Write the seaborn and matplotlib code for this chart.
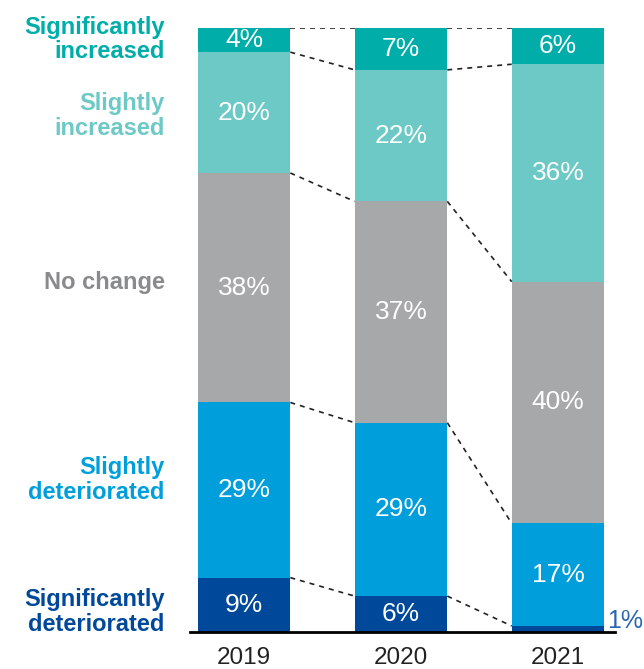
import numpy as np
import pandas as pd
import matplotlib
matplotlib.use('Agg')
import matplotlib.pyplot as plt
import seaborn as sns

years = ['2019', '2020', '2021']
categories = ['Significantly\ndeteriorated', 'Slightly\ndeteriorated', 'No change',
              'Slightly\nincreased', 'Significantly\nincreased']
sig_det = [9, 6, 1]
sli_det = [29, 29, 17]
no_change = [38, 37, 40]
sli_inc = [20, 22, 36]
sig_inc = [4, 7, 6]
colors = ['#00499a', '#009edb', '#a7a8aa', '#6dc9c5', '#00ada8']
label_colors = ['#00499a', '#009edb', '#898a8c', '#6dc9c5', '#00ada8']

sns.set_style('white')
plt.rcParams['font.family'] = ['Liberation Sans', 'DejaVu Sans']

vals = np.array([sig_det, sli_det, no_change, sli_inc, sig_inc], dtype=float)
shares = vals / vals.sum(axis=0) * 100  # bars are drawn to full height
cum = np.cumsum(shares, axis=0)

fig = plt.figure(figsize=(6.44, 6.69), dpi=100)
ax = fig.add_axes([190/644, 37/669, 425/644, 604/669])

width = 0.59
# draw cumulative tops from the highest layer down so each layer shows
for k in range(len(categories) - 1, -1, -1):
    df = pd.DataFrame({'year': years, 'top': cum[k]})
    sns.barplot(data=df, x='year', y='top', color=colors[k], width=width,
                saturation=1, ax=ax, linewidth=0)

# dashed connectors between bars
for k in range(len(categories)):
    for i in range(len(years) - 1):
        ax.plot([i + width/2, i + 1 - width/2], [cum[k][i], cum[k][i+1]],
                ls=(0, (3, 3)), color='#222222', lw=1.2)

# value labels
for k in range(len(categories)):
    for i in range(len(years)):
        v = int(vals[k][i])
        lo = cum[k][i] - shares[k][i]
        mid = lo + shares[k][i] / 2
        if shares[k][i] < 3:
            ax.text(i + width/2 + 0.02, lo + 1.8, f'{v}%', color='#2a66b0',
                    fontsize=18, ha='left', va='center', clip_on=False)
        else:
            ax.text(i, mid, f'{v}%', color='white', fontsize=19,
                    ha='center', va='center')

# category labels on the left
label_y = [3.3, 25.2, 57.8, 85.4, 98.1]
for k, name in enumerate(categories):
    ax.text(-0.505, label_y[k], name, color=label_colors[k], fontsize=17,
            fontweight='bold', ha='right', va='center', linespacing=1.08,
            clip_on=False)

ax.set_xlim(-0.344, 2.363)
ax.set_ylim(0, 100)
ax.set_xlabel('')
ax.set_ylabel('')
ax.set_yticks([])
ax.tick_params(axis='x', length=0, labelsize=17.5, pad=11, colors='#222222')
sns.despine(ax=ax, left=True)
ax.spines['bottom'].set_linewidth(2)
ax.spines['bottom'].set_color('black')

plt.savefig('out.png', dpi=100)
